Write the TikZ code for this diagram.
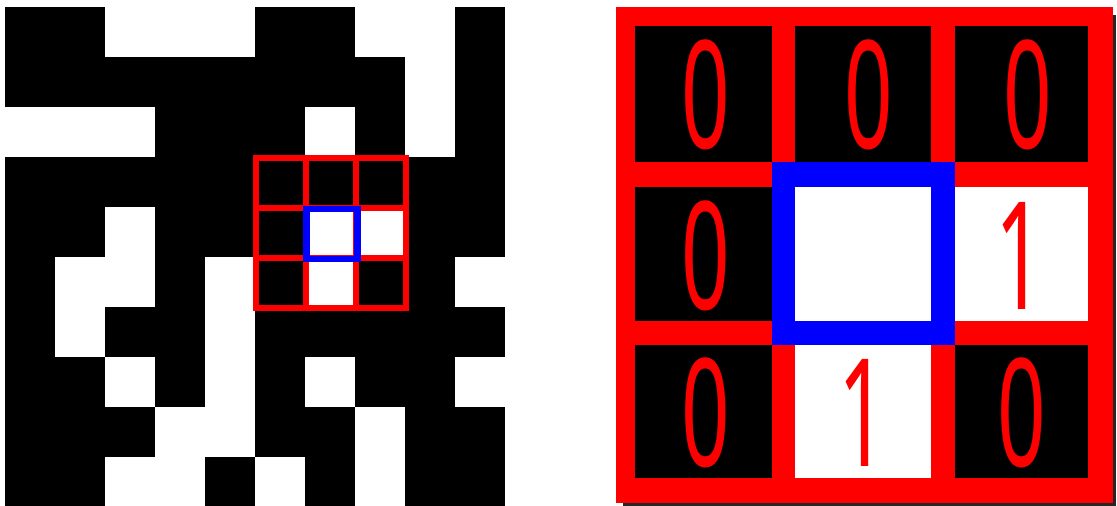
\documentclass[tikz,border=0pt]{standalone}
\usepackage{fontspec}
\newfontfamily\valuefont{Noto Sans}
\usetikzlibrary{positioning}

\tikzset{
    bit0/.style={fill=black},
    bit1/.style={fill=white},
    window/.style={draw=red, line width=6.5pt, line cap=rect},
    centre/.style={draw=blue, line width=6.5pt},
    digit/.style={text=red, inner sep=0pt, font=\valuefont\fontsize{100}{100}\selectfont},
}
\newcommand{\tallbit}[1]{\scalebox{0.85}[1.5]{#1}}

\begin{document}
\begin{tikzpicture}[x=1pt, y=-1pt]
    \useasboundingbox [fill=white] (0,0) rectangle (1117,506);

    % binary image, 1 = white
    \foreach \row [count=\r from 0] in {
        {0,0,1,1,1,0,0,1,1,0},
        {0,0,0,0,0,0,0,0,1,0},
        {1,1,1,0,0,0,1,0,1,0},
        {0,0,0,0,0,0,0,0,0,0},
        {0,0,1,0,0,0,1,1,0,0},
        {0,1,1,0,1,0,1,0,0,1},
        {0,1,0,0,1,0,0,0,0,0},
        {0,0,1,0,1,0,1,0,0,1},
        {0,0,0,1,1,0,0,1,0,0},
        {0,0,1,1,0,1,0,1,0,0}}
        \foreach \v [count=\c from 0] in \row
            \fill [bit\v] (5+50*\c, 6.5+50*\r) rectangle ++(50,50);

    % 3x3 window on the image
    \foreach \i in {0,1,2,3} {
        \draw [window] (256+50*\i, 158) -- (256+50*\i, 308);
        \draw [window] (256, 158+50*\i) -- (406, 158+50*\i);
    }
    \draw [centre] (306.5,209) rectangle (357.5,259);

    % enlarged window
    \fill [black!85] (623,503) rectangle (1115.5,505.5);
    \fill [black!85] (1113,15) rectangle (1115.5,505.5);
    \fill [red] (616,7) rectangle (1113,503);
    \fill [blue] (772,162) rectangle (954.5,345);
    \foreach \y/\h/\row in {26/136/{0,0,0}, 187/134/{0,1,1}, 345/133/{0,1,0}}
        \foreach \x/\w [count=\c from 1] in {635/137, 795/136, 955/133} {
            \pgfmathsetmacro{\b}{{\row}[\c-1]}
            \fill [bit\b] (\x,\y) rectangle ++(\w,\h);
        }

    % pixel values
    \node [digit] (v00) at (706,95) {\tallbit{0}};
    \node [digit] (v01) at (869,95) {\tallbit{0}};
    \node [digit] (v02) at (1028,95) {\tallbit{0}};
    \node [digit] (v10) at (706,256) {\tallbit{0}};
    \node [digit] (v12) at (1020,256) {\tallbit{1}};
    \node [digit] (v20) at (706,413) {\tallbit{0}};
    \node [digit] (v21) at (863,413) {\tallbit{1}};
    \node [digit] (v22) at (1022,413) {\tallbit{0}};
\end{tikzpicture}
\end{document}
